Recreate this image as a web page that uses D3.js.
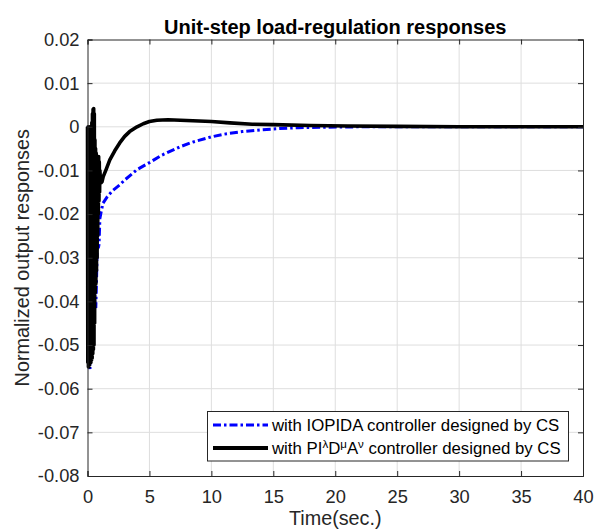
<!DOCTYPE html>
<html><head><meta charset="utf-8">
<script src="https://cdn.jsdelivr.net/npm/d3@7"></script>
<style>
html,body{margin:0;padding:0;background:#fff;}
svg{display:block;font-family:"Liberation Sans",Arial,Helvetica,sans-serif;}
</style></head>
<body><svg id="chart" width="595" height="531"></svg>
<script>
// ---- data ----
const title = "Unit-step load-regulation responses";
const xLabel = "Time(sec.)";
const yLabel = "Normalized output responses";
const xTicks = [0, 5, 10, 15, 20, 25, 30, 35, 40];
const yTicks = [0.02, 0.01, 0, -0.01, -0.02, -0.03, -0.04, -0.05, -0.06, -0.07, -0.08];
const yTickLabels = ["0.02","0.01","0","-0.01","-0.02","-0.03","-0.04","-0.05","-0.06","-0.07","-0.08"];

// IOPIDA controller (blue dash-dot)
const blueT = [0, 0.05, 0.1, 0.2, 0.3, 0.4, 0.5, 0.6, 0.67, 0.73, 0.8, 0.87, 0.93, 1.0, 1.1, 1.25,
  1.6, 2.0, 2.6, 3.0, 3.5, 4.0, 5.0, 6.0, 7.45, 8.5, 10, 11, 12.5, 14, 15.5, 17, 19, 22, 30, 40];
const blueV = [0, -0.03, -0.05, -0.0555, -0.045, -0.025, -0.03, -0.041, -0.0415, -0.035, -0.025, -0.0278, -0.027, -0.021, -0.0195, -0.0175,
  -0.016, -0.0147, -0.0133, -0.0122, -0.011, -0.0098, -0.0082, -0.0065, -0.0046, -0.0035, -0.0023, -0.0017, -0.0011, -0.0007, -0.0004, -0.0002, -0.0001, 0, 0, 0];

// PI^λ D^μ A^ν controller (black solid)
const blackT = [0, 0.025, 0.05, 0.075, 0.1, 0.125, 0.15, 0.175, 0.2, 0.225, 0.25, 0.275, 0.3, 0.325, 0.35, 0.375,
  0.4, 0.425, 0.45, 0.475, 0.5, 0.525, 0.55, 0.575, 0.6, 0.625, 0.65, 0.675, 0.7, 0.725, 0.75, 0.775,
  0.8, 0.825, 0.85, 0.875, 0.9, 0.925, 0.95, 0.975, 1.0, 1.05, 1.1, 1.17, 1.27, 1.5, 1.8, 2.2, 2.6, 3.0, 3.4, 4.0, 4.5, 5.0, 5.6, 6.5,
  7.5, 8.5, 10, 11.5, 13.3, 15, 18, 21, 25, 30, 40];
const blackV = [0, -0.054, 0, -0.055, -0.001, -0.055, 0, -0.0545, -0.001, -0.054, 0, -0.054, -0.001, -0.0535, 0.001, -0.053,
  0.003, -0.052, 0.004, -0.051, 0.0042, -0.05, 0.003, -0.045, -0.003, -0.038, -0.005, -0.036, -0.006, -0.033, -0.0068, -0.03,
  -0.0068, -0.025, -0.007, -0.02, -0.0068, -0.017, -0.008, -0.015, -0.01, -0.0125, -0.0128, -0.0126, -0.0114, -0.0098, -0.0076, -0.0055, -0.0037, -0.0022, -0.0011, 0.0, 0.0007, 0.0012, 0.0015, 0.0016,
  0.0015, 0.0014, 0.0012, 0.0009, 0.0006, 0.0005, 0.0003, 0.0002, 0.0001, 0, 0];

const legendLabels = ["with IOPIDA controller designed by CS", "with PI", "λ", "D", "μ", "A", "ν", " controller designed by CS"];

// ---- layout ----
const M = {left: 87.5, right: 583, top: 39.5, bottom: 476};
const svg = d3.select("#chart");
const x = d3.scaleLinear().domain([0, 40]).range([M.left, M.right]);
const y = d3.scaleLinear().domain([-0.08, 0.02]).range([M.bottom, M.top]);
const txt = "#262626";

// grid
const g = svg.append("g");
g.selectAll("line.vg").data(xTicks.slice(1, -1)).join("line")
  .attr("x1", d => x(d)).attr("x2", d => x(d)).attr("y1", M.top).attr("y2", M.bottom)
  .attr("stroke", "#dedede").attr("stroke-width", 1);
g.selectAll("line.hg").data(yTicks.slice(1, -1)).join("line")
  .attr("x1", M.left).attr("x2", M.right).attr("y1", d => y(d)).attr("y2", d => y(d))
  .attr("stroke", "#dedede").attr("stroke-width", 1);

// clip (lines at the axes limits keep their half width, as in MATLAB)
svg.append("clipPath").attr("id", "clip").append("rect")
  .attr("x", M.left - 2.5).attr("y", M.top).attr("width", M.right - M.left + 2.5).attr("height", M.bottom - M.top);

const line = d3.line().x(d => x(d[0])).y(d => y(d[1]));
const blueData = blueT.map((t, i) => [t, blueV[i]]);
const blackData = blackT.map((t, i) => [t, blackV[i]]);
const plot = svg.append("g").attr("clip-path", "url(#clip)");
plot.append("path").datum(blueData).attr("d", line).attr("fill", "none")
  .attr("stroke", "#0000ff").attr("stroke-width", 3).attr("stroke-dasharray", "8,3,2.5,3");
plot.append("path").datum(blackData).attr("d", line).attr("fill", "none")
  .attr("stroke", "#000").attr("stroke-width", 3.6).attr("stroke-linejoin", "round");

// axes (MATLAB box with inward ticks)
const axB = d3.axisBottom(x).tickValues(xTicks).tickSize(-5).tickPadding(14).tickFormat(d3.format("d"));
const axL = d3.axisLeft(y).tickValues(yTicks).tickSize(-5).tickPadding(8).tickFormat((d, i) => yTickLabels[i]);
const axT = d3.axisTop(x).tickValues(xTicks).tickSize(-5).tickFormat("");
const axR = d3.axisRight(y).tickValues(yTicks).tickSize(-5).tickFormat("");
function style(sel) {
  sel.select(".domain").attr("stroke", txt).attr("stroke-width", 1);
  sel.selectAll(".tick line").attr("stroke", txt);
  sel.selectAll(".tick text").attr("fill", txt).style("font-size", "18.3px").style("font-family", '"Liberation Sans",Arial,sans-serif');
}
svg.append("g").attr("transform", `translate(0,${M.bottom})`).call(axB).call(style);
svg.append("g").attr("transform", `translate(${M.left},0)`).call(axL).call(style);
svg.append("g").attr("transform", `translate(0,${M.top})`).call(axT).call(style);
svg.append("g").attr("transform", `translate(${M.right},0)`).call(axR).call(style);

// title & labels
svg.append("text").attr("x", (M.left + M.right) / 2).attr("y", 34).attr("text-anchor", "middle")
  .attr("fill", "#000").style("font-size", "20px").style("font-weight", "bold").text(title);
svg.append("text").attr("x", (M.left + M.right) / 2).attr("y", 525).attr("text-anchor", "middle")
  .attr("fill", txt).style("font-size", "19.8px").text(xLabel);
svg.append("text").attr("transform", `translate(29,${(M.top + M.bottom) / 2}) rotate(-90)`)
  .attr("text-anchor", "middle").attr("fill", txt).style("font-size", "19.8px").text(yLabel);

// legend
const L = {x: 207.5, y: 411.5, w: 361, h: 49.5};
const lg = svg.append("g");
lg.append("rect").attr("x", L.x).attr("y", L.y).attr("width", L.w).attr("height", L.h)
  .attr("fill", "#fff").attr("stroke", txt).attr("stroke-width", 1);
const rows = [L.y + 13.5, L.y + 36.5];
lg.append("line").attr("x1", 213).attr("x2", 268).attr("y1", rows[0]).attr("y2", rows[0])
  .attr("stroke", "#0000ff").attr("stroke-width", 3).attr("stroke-dasharray", "8,3,2.5,3");
lg.append("line").attr("x1", 213).attr("x2", 268).attr("y1", rows[1]).attr("y2", rows[1])
  .attr("stroke", "#000").attr("stroke-width", 4);
lg.append("text").attr("x", 272).attr("y", rows[0]).attr("dy", "0.35em").attr("fill", "#000")
  .style("font-size", "16.8px").text(legendLabels[0]);
const t2 = lg.append("text").attr("x", 272).attr("y", rows[1]).attr("dy", "0.35em").attr("fill", "#000")
  .style("font-size", "16.8px");
legendLabels.slice(1).forEach((s, i) => {
  const sup = i % 2 === 1 && i < 6;
  t2.append("tspan").attr("dy", i === 0 ? null : (sup ? "-6" : "6"))
    .style("font-size", sup ? "11.5px" : null).text(s);
});
</script></body></html>
